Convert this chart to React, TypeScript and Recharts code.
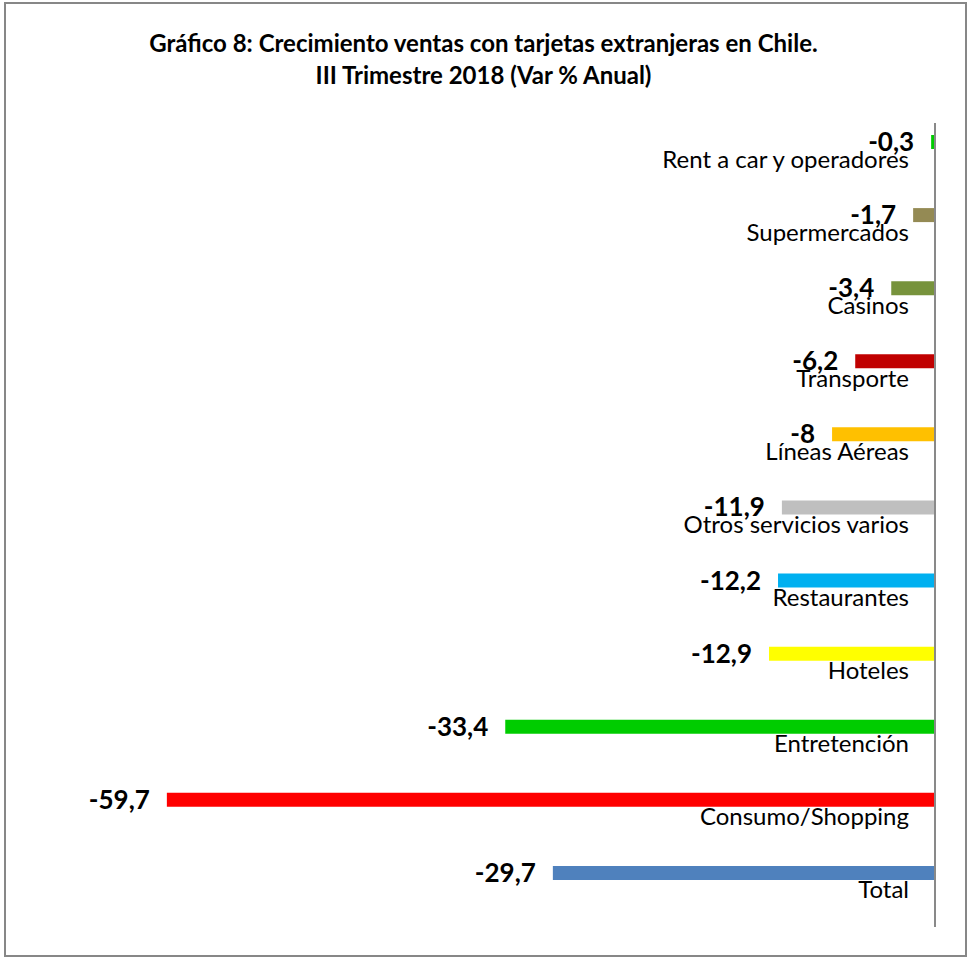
import React from 'react';
import { BarChart, Bar, XAxis, YAxis, Cell, LabelList } from 'recharts';

const categories = [
  'Rent a car y operadores',
  'Supermercados',
  'Casinos',
  'Transporte',
  'Líneas Aéreas',
  'Otros servicios varios',
  'Restaurantes',
  'Hoteles',
  'Entretención',
  'Consumo/Shopping',
  'Total',
];
const values = [-0.3, -1.7, -3.4, -6.2, -8, -11.9, -12.2, -12.9, -33.4, -59.7, -29.7];
const barColors = [
  '#00CC00', '#948A54', '#77933C', '#C00000', '#FFC000', '#BFBFBF',
  '#00B0F0', '#FFFF00', '#00CC00', '#FF0000', '#4F81BD',
];
const titleLines = [
  'Gráfico 8: Crecimiento ventas con tarjetas extranjeras en Chile.',
  'III Trimestre 2018 (Var % Anual)',
];

const data = categories.map((name, i) => ({ name, value: values[i] }));

const FONT = 'Lato, "Open Sans", sans-serif';

const fmt = (v: number) => String(v).replace('.', ',');

const CategoryTick = (props: any) => {
  const { x, y, payload } = props;
  return (
    <text x={x - 26} y={y} dy={8} textAnchor="end" fontFamily={FONT} fontSize={24} fill="#000">
      {payload.value}
    </text>
  );
};

const ValueLabel = (props: any) => {
  const { x, y, width, height, value } = props;
  const left = Math.min(x, x + width);
  return (
    <text
      x={left - 17}
      y={y + height / 2}
      dy={9}
      textAnchor="end"
      fontFamily={FONT}
      fontWeight="bold"
      fontSize={26}
      fill="#000"
    >
      {fmt(value)}
    </text>
  );
};

export default function App() {
  return (
    <div style={{ position: 'absolute', left: 0, top: 0, width: 967, height: 958, background: '#fff' }}>
      <div
        style={{
          position: 'absolute',
          left: 4,
          top: 2,
          width: 959,
          height: 951,
          border: '2px solid #878787',
        }}
      />
      <div
        style={{
          position: 'absolute',
          left: 0,
          top: 27,
          width: 967,
          textAlign: 'center',
          fontFamily: FONT,
          fontWeight: 'bold',
          fontSize: 24,
          lineHeight: '32px',
          color: '#000',
        }}
      >
        {titleLines.map((t) => (
          <div key={t}>{t}</div>
        ))}
      </div>
      <div style={{ position: 'absolute', left: 0, top: 0 }}>
        <BarChart
          width={967}
          height={958}
          data={data}
          layout="vertical"
          margin={{ top: 123, bottom: 31, left: 163, right: 31 }}
          barSize={14}
          barGap={21}
        >
          <XAxis type="number" domain={[-60, 0]} hide />
          <YAxis
            type="category"
            dataKey="name"
            orientation="right"
            width={1}
            tickSize={0}
            tickMargin={0}
            tickLine={false}
            axisLine={{ stroke: '#898989', strokeWidth: 2 }}
            tick={<CategoryTick />}
            interval={0}
          />
          <Bar dataKey="value" isAnimationActive={false}>
            {data.map((d, i) => (
              <Cell key={d.name} fill={barColors[i]} />
            ))}
            <LabelList dataKey="value" content={<ValueLabel />} />
          </Bar>
          <Bar dataKey="spacer" isAnimationActive={false} />
        </BarChart>
      </div>
    </div>
  );
}
